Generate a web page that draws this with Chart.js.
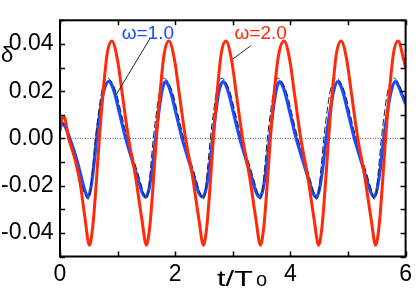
<!DOCTYPE html>
<html>
<head>
<meta charset="utf-8">
<script src="https://cdn.jsdelivr.net/npm/chart.js@4/dist/chart.umd.min.js"></script>
<style>
  html, body { margin: 0; padding: 0; background: #fff; }
</style>
</head>
<body>
<canvas id="line-chart" width="416" height="288"></canvas>
<script>
'use strict';

// omega = 2.0 (red)
const tRed = [0.00, 0.02, 0.07, 0.15, 0.25, 0.35, 0.43, 0.51, 0.57, 0.62, 0.68, 0.75, 0.82,
  0.90, 1.00, 1.08, 1.19, 1.31, 1.42, 1.50, 1.56, 1.61, 1.67, 1.74, 1.81,
  1.89, 1.99, 2.07, 2.18, 2.30, 2.41, 2.49, 2.55, 2.60, 2.66, 2.73, 2.80,
  2.88, 2.98, 3.06, 3.17, 3.29, 3.40, 3.48, 3.54, 3.59, 3.65, 3.72, 3.80,
  3.89, 3.99, 4.07, 4.18, 4.30, 4.41, 4.49, 4.55, 4.60, 4.66, 4.73, 4.80,
  4.88, 4.98, 5.06, 5.17, 5.29, 5.40, 5.48, 5.54, 5.59, 5.65, 5.72, 5.79,
  5.87, 5.97, 6.00];
const deltaRed = [0.003, 0.007, 0.0092, 0.000, -0.008, -0.019, -0.033, -0.0452, -0.037, -0.022, -0.001, 0.020, 0.036,
  0.0412, 0.033, 0.019, 0.000, -0.016, -0.034, -0.0452, -0.037, -0.022, -0.001, 0.020, 0.036,
  0.0412, 0.033, 0.019, 0.000, -0.016, -0.034, -0.0452, -0.037, -0.022, -0.001, 0.020, 0.036,
  0.0412, 0.033, 0.019, 0.000, -0.016, -0.034, -0.0452, -0.037, -0.022, -0.001, 0.020, 0.036,
  0.0412, 0.033, 0.019, 0.000, -0.016, -0.034, -0.0452, -0.037, -0.022, -0.001, 0.020, 0.036,
  0.0412, 0.033, 0.019, 0.000, -0.016, -0.034, -0.0452, -0.037, -0.022, -0.001, 0.020, 0.036,
  0.0412, 0.033, 0.030];

// omega = 1.0 (blue)
const tBlue = [0.00, 0.04, 0.10, 0.17, 0.285, 0.37, 0.43, 0.485, 0.535, 0.59, 0.635, 0.70, 0.76,
  0.85, 0.90, 0.95, 1.03, 1.14, 1.25, 1.35, 1.43, 1.49, 1.54, 1.60, 1.66, 1.72, 1.77,
  1.83, 1.88, 1.93, 2.01, 2.12, 2.23, 2.33, 2.41, 2.48, 2.53, 2.59, 2.65, 2.71, 2.76,
  2.83, 2.88, 2.93, 3.01, 3.12, 3.23, 3.33, 3.41, 3.47, 3.52, 3.58, 3.64, 3.70, 3.75,
  3.81, 3.86, 3.91, 3.99, 4.10, 4.21, 4.31, 4.39, 4.45, 4.50, 4.56, 4.62, 4.69, 4.75,
  4.82, 4.87, 4.92, 5.00, 5.11, 5.22, 5.32, 5.40, 5.45, 5.50, 5.56, 5.62, 5.69, 5.75,
  5.82, 5.87, 5.92, 6.00];
const deltaBlue = [0.004, 0.0065, 0.0045, 0.000, -0.0085, -0.0164, -0.022, -0.0249, -0.021, -0.011, 0.000, 0.012, 0.020,
  0.0242, 0.0225, 0.019, 0.011, 0.000, -0.009, -0.017, -0.023, -0.0248, -0.022, -0.013, 0.000, 0.012, 0.020,
  0.0240, 0.0225, 0.019, 0.011, 0.000, -0.009, -0.017, -0.023, -0.0248, -0.022, -0.013, 0.000, 0.012, 0.020,
  0.0240, 0.0225, 0.019, 0.011, 0.000, -0.009, -0.017, -0.023, -0.0248, -0.022, -0.013, 0.000, 0.012, 0.020,
  0.0240, 0.0225, 0.019, 0.011, 0.000, -0.009, -0.017, -0.023, -0.0248, -0.022, -0.013, 0.000, 0.012, 0.020,
  0.0240, 0.0225, 0.019, 0.011, 0.000, -0.009, -0.017, -0.023, -0.0248, -0.022, -0.013, 0.000, 0.012, 0.020,
  0.0240, 0.0225, 0.0195, 0.0145];

// dashed reference curve
const tDash = [0.00, 0.04, 0.10, 0.18, 0.29, 0.38, 0.44, 0.49,
  0.525, 0.565, 0.615, 0.675, 0.725, 0.82, 0.88, 0.98, 1.06, 1.17, 1.28, 1.38, 1.45, 1.495,
  1.53, 1.57, 1.62, 1.68, 1.73, 1.80, 1.86, 1.96, 2.04, 2.15, 2.26, 2.36, 2.43, 2.485,
  2.52, 2.56, 2.61, 2.67, 2.72, 2.80, 2.86, 2.96, 3.04, 3.15, 3.26, 3.36, 3.43, 3.475,
  3.51, 3.55, 3.60, 3.66, 3.71, 3.78, 3.84, 3.94, 4.02, 4.13, 4.24, 4.34, 4.41, 4.455,
  4.49, 4.53, 4.58, 4.64, 4.69, 4.79, 4.85, 4.95, 5.03, 5.14, 5.25, 5.35, 5.42, 5.455,
  5.49, 5.53, 5.58, 5.64, 5.69, 5.79, 5.85, 5.95, 6.00];
const deltaDash = [0.005, 0.0065, 0.004, -0.001, -0.011, -0.020, -0.024, -0.0258,
  -0.023, -0.013, 0.000, 0.012, 0.020, 0.0255, 0.0245, 0.019, 0.011, 0.000, -0.009, -0.017, -0.023, -0.0258,
  -0.023, -0.013, 0.000, 0.012, 0.020, 0.0255, 0.0245, 0.019, 0.011, 0.000, -0.009, -0.017, -0.023, -0.0258,
  -0.023, -0.013, 0.000, 0.012, 0.020, 0.0255, 0.0245, 0.019, 0.011, 0.000, -0.009, -0.017, -0.023, -0.0258,
  -0.023, -0.013, 0.000, 0.012, 0.020, 0.0255, 0.0245, 0.019, 0.011, 0.000, -0.009, -0.017, -0.023, -0.0258,
  -0.023, -0.013, 0.000, 0.012, 0.020, 0.0255, 0.0245, 0.019, 0.011, 0.000, -0.009, -0.017, -0.023, -0.0258,
  -0.023, -0.013, 0.000, 0.012, 0.020, 0.0255, 0.0245, 0.019, 0.016];

const seriesNames = ['ω=2.0', 'ω=1.0'];
const xRange = [0, 6];
const yRange = [-0.05, 0.05];

// label text spots + leader lines, in data units
const notes = [
  { text: seriesNames[1], color: '#1a4dff', x: 1.07, y: 0.0422, from: [1.56, 0.0422], to: [0.97, 0.0183] },
  { text: seriesNames[0], color: '#ff2a0a', x: 3.03, y: 0.0422, from: [3.31, 0.0392], to: [3.00, 0.0336] }
];

const toPoints = function (ts, vs) {
  return ts.map((t, i) => ({ x: t, y: vs[i] }));
};

const FONT = '"Liberation Sans", Arial, sans-serif';

const framePlugin = {
  id: 'frame',
  afterDraw(chart) {
    const ctx = chart.ctx;
    const a = chart.chartArea;
    const xs = chart.scales.x;
    const ys = chart.scales.y;
    ctx.save();
    ctx.strokeStyle = '#000';
    ctx.lineWidth = 2;
    ctx.strokeRect(a.left, a.top, a.right - a.left, a.bottom - a.top);

    // inward ticks
    ctx.lineWidth = 1.5;
    ctx.beginPath();
    for (let t = xRange[0]; t <= xRange[1]; t++) {
      const px = Math.round(xs.getPixelForValue(t)) + 0.5;
      ctx.moveTo(px, a.bottom); ctx.lineTo(px, a.bottom - 5);
      ctx.moveTo(px, a.top); ctx.lineTo(px, a.top + 5);
    }
    for (let k = -5; k <= 5; k++) {
      const py = Math.round(ys.getPixelForValue(k / 100)) + 0.5;
      ctx.moveTo(a.left, py); ctx.lineTo(a.left + 5, py);
      ctx.moveTo(a.right, py); ctx.lineTo(a.right - 5, py);
    }
    ctx.stroke();

    // annotation leaders
    ctx.lineWidth = 1;
    ctx.strokeStyle = '#222';
    notes.forEach(n => {
      ctx.beginPath();
      ctx.moveTo(xs.getPixelForValue(n.from[0]), ys.getPixelForValue(n.from[1]));
      ctx.lineTo(xs.getPixelForValue(n.to[0]), ys.getPixelForValue(n.to[1]));
      ctx.stroke();
      ctx.fillStyle = n.color;
      ctx.font = '19px ' + FONT;
      ctx.textAlign = 'left';
      ctx.textBaseline = 'alphabetic';
      ctx.fillText(n.text, xs.getPixelForValue(n.x), ys.getPixelForValue(n.y));
    });

    // axis titles
    ctx.fillStyle = '#000';
    ctx.font = '22px ' + FONT;
    ctx.textAlign = 'left';
    ctx.fillText('δ', 1, 62);
    // t/T is drawn a bit wider, like the original
    ctx.save();
    ctx.translate(217, 285.5);
    ctx.scale(1.4, 1);
    ctx.font = '22px ' + FONT;
    ctx.fillText('t/T', 0, 0);
    ctx.restore();
    ctx.font = '20px ' + FONT;
    ctx.fillText('o', 256, 286);
    ctx.restore();
  }
};

const lineChart = document.getElementById('line-chart').getContext('2d');

const chart = new Chart(lineChart, {
  type: 'scatter',
  data: {
    datasets: [
      {
        label: seriesNames[0],
        data: toPoints(tRed, deltaRed),
        borderColor: '#ff2a0a',
        borderWidth: 3
      },
      {
        label: 'ref',
        data: toPoints(tDash, deltaDash),
        borderColor: '#222',
        borderWidth: 1,
        borderDash: [7, 3]
      },
      {
        label: seriesNames[1],
        data: toPoints(tBlue, deltaBlue),
        borderColor: '#1a4dff',
        borderWidth: 3.2
      },
      {
        label: 'zero',
        data: toPoints(xRange, [0, 0]),
        borderColor: '#555',
        borderWidth: 1,
        borderDash: [1, 1.5],
        cubicInterpolationMode: 'default',
        tension: 0
      }
    ]
  },
  options: {
    responsive: false,
    animation: false,
    devicePixelRatio: 1,
    showLine: true,
    datasets: {
      scatter: {
        pointRadius: 0,
        pointHoverRadius: 0,
        cubicInterpolationMode: 'monotone',
        fill: false
      }
    },
    layout: { padding: { top: 0, right: 5, left: 0, bottom: 0 } },
    plugins: {
      legend: { display: false },
      tooltip: { enabled: false }
    },
    scales: {
      x: {
        type: 'linear',
        min: xRange[0],
        max: xRange[1],
        grid: { display: false, drawTicks: false },
        border: { display: false },
        ticks: {
          stepSize: 1,
          autoSkip: false,
          maxRotation: 0,
          padding: 4,
          color: '#000',
          font: { family: FONT, size: 23 },
          callback: v => (v % 2 === 0 ? String(v) : '')
        },
        afterFit: s => { s.height = 31.5; }
      },
      y: {
        min: yRange[0],
        max: yRange[1],
        grid: { display: false, drawTicks: false },
        border: { display: false },
        ticks: {
          stepSize: 0.01,
          autoSkip: false,
          padding: 6.5,
          color: '#000',
          font: { family: FONT, size: 23 },
          callback: v => {
            const k = Math.round(v * 100);
            if (k % 2 !== 0) return '';
            return k === 0 ? '0.00' : (k / 100).toFixed(2);
          }
        },
        afterFit: s => { s.width = 60; }
      }
    }
  },
  plugins: [framePlugin]
});
</script>
</body>
</html>
